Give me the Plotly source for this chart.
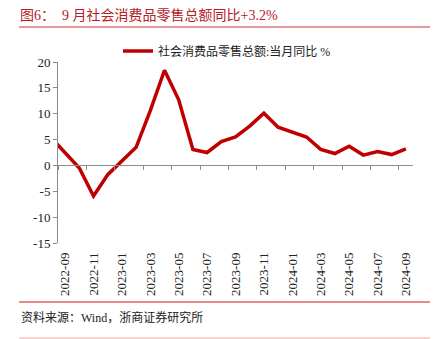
import plotly.graph_objects as go

# Monthly retail sales of consumer goods, YoY % (Jan figures not published separately)
months = ["2022-08", "2022-09", "2022-10", "2022-11", "2022-12",
          "2023-01", "2023-02", "2023-03", "2023-04", "2023-05", "2023-06",
          "2023-07", "2023-08", "2023-09", "2023-10", "2023-11", "2023-12",
          "2024-01", "2024-02", "2024-03", "2024-04", "2024-05", "2024-06",
          "2024-07", "2024-08", "2024-09"]
retail_yoy = [5.4, 2.5, -0.5, -5.9, -1.8,
              None, 3.5, 10.6, 18.4, 12.7, 3.1,
              2.5, 4.6, 5.5, 7.6, 10.1, 7.4,
              None, 5.5, 3.1, 2.3, 3.7, 2.0,
              2.7, 2.1, 3.2]
y_ticks = [-15, -10, -5, 0, 5, 10, 15, 20]
series_name = "社会消费品零售总额:当月同比 %"
title_text = "图6：\u00a0\u00a09 月社会消费品零售总额同比+3.2%"
source_text = "资料来源：Wind，浙商证券研究所"

FONT = "Liberation Serif, Noto Sans CJK SC"
RED = "#c00000"
AXIS = "#8c8c8c"
W, H = 435, 339
ML, MR, MT, MB = 58, 22, 62, 96
PW, PH = W - ML - MR, H - MT - MB


def px_x(px):
    return (px - ML) / PW


def px_y(py):
    return (H - MB - py) / PH


y_min, y_max = y_ticks[0], y_ticks[-1]
n = len(months)
x_lo, x_hi = 0.5, n - 0.5
label_months = months[1::2]
boundary_ticks = [i - 0.5 for i in range(1, n, 2)]

fig = go.Figure()
fig.add_trace(go.Scatter(
    x=months, y=retail_yoy, mode="lines", name=series_name,
    connectgaps=True, line=dict(color=RED, width=3.5),
    hoverinfo="x+y",
))
# carrier for the zero-crossing axis with boundary tick marks
fig.add_trace(go.Scatter(x=[], y=[], xaxis="x2", yaxis="y",
                         showlegend=False, hoverinfo="skip"))

fig.update_layout(
    width=W, height=H,
    margin=dict(l=ML, r=MR, t=MT, b=MB, autoexpand=False),
    paper_bgcolor="white", plot_bgcolor="white",
    font=dict(family=FONT, size=13, color="#222"),
    title=dict(text=title_text, xref="container", yref="container",
               x=20 / W, xanchor="left", y=1 - 15 / H, yanchor="middle",
               font=dict(family=FONT, size=14, color="#b52025")),
    showlegend=True,
    legend=dict(orientation="h", x=px_x(118), xanchor="left",
                y=px_y(51), yanchor="middle",
                font=dict(family=FONT, size=12, color="#222"),
                bgcolor="rgba(0,0,0,0)", itemwidth=30),
    xaxis=dict(type="category", categoryorder="array", categoryarray=months,
               range=[x_lo, x_hi], tickmode="array", tickvals=label_months,
               ticktext=label_months, tickangle=-90, ticks="",
               showline=False, showgrid=False, zeroline=False,
               ticklabelstandoff=6,
               tickfont=dict(family=FONT, size=13, color="#222")),
    xaxis2=dict(overlaying="x", anchor="free",
                position=(0 - y_min) / (y_max - y_min),
                range=[x_lo, x_hi], tickmode="array", tickvals=boundary_ticks,
                ticks="outside", ticklen=4, tickcolor=AXIS,
                showticklabels=False, showline=True, linecolor=AXIS,
                linewidth=1, showgrid=False, zeroline=False),
    yaxis=dict(range=[y_min, y_max], tickmode="array", tickvals=y_ticks,
               ticktext=[str(v) for v in y_ticks],
               ticks="outside", ticklen=4,
               tickcolor=AXIS, showline=True, linecolor=AXIS, linewidth=1,
               showgrid=False, zeroline=False,
               tickfont=dict(family=FONT, size=13, color="#222")),
)

# header rule, footer rules and source note
fig.add_shape(type="line", xref="paper", yref="paper",
              x0=px_x(19), x1=px_x(430), y0=px_y(27), y1=px_y(27),
              line=dict(color="#c8373a", width=1.2))
fig.add_shape(type="line", xref="paper", yref="paper",
              x0=px_x(19), x1=px_x(430), y0=px_y(302), y1=px_y(302),
              line=dict(color="#e48a8a", width=2))
fig.add_shape(type="line", xref="paper", yref="paper",
              x0=px_x(19), x1=px_x(430), y0=px_y(338), y1=px_y(338),
              line=dict(color="#f5c4c4", width=1.5))
fig.add_annotation(text=source_text, xref="paper", yref="paper",
                   x=px_x(19), y=px_y(317), xanchor="left", yanchor="middle",
                   showarrow=False,
                   font=dict(family=FONT, size=12, color="#222"))

fig.write_html("out.html")
